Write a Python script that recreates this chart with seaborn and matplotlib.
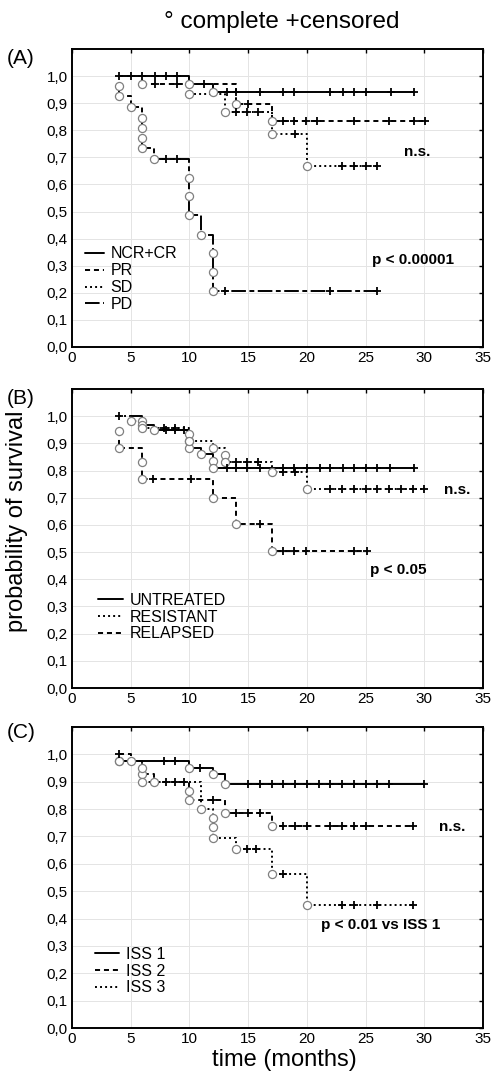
import matplotlib
matplotlib.use("Agg")
import numpy as np
import matplotlib.pyplot as plt
import seaborn as sns

# ---- panel A : response ----
ncr_t0, ncr_end = 4, 29.1
ncr_ev_t = [10, 12]
ncr_ev_s = [0.972, 0.94]
ncr_cen = [4, 5, 6, 7.1, 8, 8.9, 11.2, 13.2, 14, 16, 18, 18.9, 22, 23.1, 24, 25, 27.2, 29.1]

pr_t0, pr_end = 6, 30.1
pr_ev_t = [6, 14, 17]
pr_ev_s = [0.972, 0.897, 0.836]
pr_cen = [7.1, 8.9, 15, 18, 18.9, 19.9, 20.9, 24, 27, 29.1, 30.1]

sd_t0, sd_end = 10, 26
sd_ev_t = [10, 13, 17, 20]
sd_ev_s = [0.935, 0.869, 0.785, 0.669]
sd_cen = [14, 14.9, 15.8, 19, 23, 24, 25, 26]

pd_t0, pd_end = 4, 26
pd_ev_t = [4, 4, 5, 6, 6, 6, 6, 7, 10, 10, 10, 11, 12, 12, 12]
pd_ev_s = [0.964, 0.927, 0.885, 0.846, 0.808, 0.773, 0.733, 0.694,
           0.624, 0.557, 0.488, 0.414, 0.347, 0.276, 0.206]
pd_cen = [8, 8.9, 13, 22, 26]

# ---- panel B : treatment ----
unt_t0, unt_end = 5, 29.1
unt_ev_t = [6, 6, 7, 10, 10, 11, 12, 12]
unt_ev_s = [0.984, 0.966, 0.949, 0.91, 0.884, 0.86, 0.835, 0.81]
unt_cen = [8, 8.8, 9.5, 13.2, 14, 14.9, 16, 18, 18.9, 20, 21.1, 22, 23.1, 24, 25, 26, 27.1, 29.1]

res_t0, res_end = 4, 30
res_ev_t = [5, 6, 10, 10, 12, 13, 13, 17, 20]
res_ev_s = [0.984, 0.955, 0.933, 0.91, 0.884, 0.858, 0.832, 0.795, 0.732]
res_cen = [4, 7.8, 8.8, 14, 14.9, 15.8, 18, 19, 22, 23, 24, 25, 26, 27, 28, 29, 30]

rel_t0, rel_end = 4, 25.1
rel_ev_t = [4, 4, 6, 6, 12, 14, 17]
rel_ev_s = [0.945, 0.882, 0.83, 0.768, 0.70, 0.604, 0.504]
rel_cen = [6.9, 10.1, 16, 18, 18.9, 19.9, 24, 25.1]

# ---- panel C : ISS stage ----
iss1_t0, iss1_end = 4, 30
iss1_ev_t = [4, 10, 12, 13]
iss1_ev_s = [0.977, 0.951, 0.927, 0.89]
iss1_cen = [7.8, 8.8, 10.9, 15, 16, 17, 18, 19, 20, 21, 22, 23, 24, 25, 26, 27, 30]

iss2_t0, iss2_end = 4, 29
iss2_ev_t = [5, 6, 7, 10, 10, 13, 17]
iss2_ev_s = [0.975, 0.927, 0.898, 0.865, 0.833, 0.787, 0.737]
iss2_cen = [4, 8, 8.8, 9.5, 12, 14, 15, 16, 18, 19, 20, 22, 23, 24, 25, 29]

iss3_t0, iss3_end = 4, 29
iss3_ev_t = [4, 6, 6, 11, 12, 12, 12, 14, 17, 20]
iss3_ev_s = [0.977, 0.951, 0.90, 0.80, 0.766, 0.736, 0.693, 0.653, 0.563, 0.451]
iss3_cen = [14.9, 15.7, 18, 23, 24, 26, 29]

ytick_vals = [0.0, 0.1, 0.2, 0.3, 0.4, 0.5, 0.6, 0.7, 0.8, 0.9, 1.0]
ytick_labels = ["0,0", "0,1", "0,2", "0,3", "0,4", "0,5", "0,6", "0,7", "0,8", "0,9", "1,0"]
xtick_vals = [0, 5, 10, 15, 20, 25, 30, 35]

sns.set_theme(style="white")
plt.rcParams["font.family"] = ["Liberation Sans", "DejaVu Sans"]
plt.rcParams["text.color"] = "black"
plt.rcParams["axes.labelcolor"] = "black"
plt.rcParams["xtick.color"] = "black"
plt.rcParams["ytick.color"] = "black"

SOLID = "-"
DASH = (0, (2.6, 2.0))
DOT = (0, (1.0, 1.6))
LONGDASH = (0, (7.5, 1.8, 2.5, 1.8))


def level_at(t, ev_t, ev_s):
    lv = 1.0
    for et, es in zip(ev_t, ev_s):
        if et <= t:
            lv = es
    return lv


def km_curve(ax, t0, ev_t, ev_s, cen, t_end, ls):
    xs, ys = [t0], [1.0]
    for et, es in zip(ev_t, ev_s):
        xs.append(et)
        ys.append(es)
    if xs[0] == xs[1]:
        xs, ys = xs[1:], ys[1:]
    xs.append(t_end)
    ys.append(ys[-1])
    sns.lineplot(x=xs, y=ys, ax=ax, estimator=None, sort=False,
                 drawstyle="steps-post", color="black", lw=1.4, linestyle=ls, zorder=3)
    h = ax.lines[-1]
    sns.scatterplot(x=ev_t, y=ev_s, ax=ax, marker="o", s=34, color="white",
                    edgecolor="#808080", linewidth=0.9, zorder=4)
    cy = [level_at(c, ev_t, ev_s) for c in cen]
    sns.scatterplot(x=cen, y=cy, ax=ax, marker="+", s=40, color="black",
                    linewidth=1.3, zorder=5)
    return h


def style_axes(ax):
    ax.set_xlim(0, 35)
    ax.set_ylim(0, 1.1)
    ax.set_xticks(xtick_vals)
    ax.set_xticklabels([str(v) for v in xtick_vals])
    ax.set_yticks(ytick_vals)
    ax.set_yticklabels(ytick_labels)
    ax.grid(True, color="#e4e4e4", lw=0.7)
    ax.set_axisbelow(True)
    for sp in ax.spines.values():
        sp.set_color("black")
        sp.set_linewidth(1.4)
    ax.tick_params(direction="in", top=True, right=True, length=3, width=1,
                   labelsize=11, colors="black", labelcolor="black", pad=3)
    ax.set_xlabel("")
    ax.set_ylabel("")


fig = plt.figure(figsize=(4.92, 10.8), dpi=100)
L, W = 72 / 492, 411 / 492
axA = fig.add_axes([L, 1 - 347 / 1080, W, 298 / 1080])
axB = fig.add_axes([L, 1 - 688 / 1080, W, 299 / 1080])
axC = fig.add_axes([L, 1 - 1028 / 1080, W, 301 / 1080])

# A
hA = [km_curve(axA, ncr_t0, ncr_ev_t, ncr_ev_s, ncr_cen, ncr_end, SOLID),
      km_curve(axA, pr_t0, pr_ev_t, pr_ev_s, pr_cen, pr_end, DASH),
      km_curve(axA, sd_t0, sd_ev_t, sd_ev_s, sd_cen, sd_end, DOT),
      km_curve(axA, pd_t0, pd_ev_t, pd_ev_s, pd_cen, pd_end, LONGDASH)]
style_axes(axA)
axA.legend(hA, ["NCR+CR", "PR", "SD", "PD"], loc="upper left", bbox_to_anchor=(0.031, 0.338),
           frameon=False, fontsize=11.5, handlelength=1.2, handletextpad=0.4,
           labelspacing=0.12, borderpad=0, borderaxespad=0, labelcolor="black")
axA.text(29.4, 0.72, "n.s.", fontsize=11, fontweight="bold", ha="center", va="center", color="black")
axA.text(29.0, 0.322, "p < 0.00001", fontsize=11, fontweight="bold", ha="center", va="center", color="black")

# B
hB = [km_curve(axB, unt_t0, unt_ev_t, unt_ev_s, unt_cen, unt_end, SOLID),
      km_curve(axB, res_t0, res_ev_t, res_ev_s, res_cen, res_end, DOT),
      km_curve(axB, rel_t0, rel_ev_t, rel_ev_s, rel_cen, rel_end, DASH)]
style_axes(axB)
axB.legend(hB, ["UNTREATED", "RESISTANT", "RELAPSED"], loc="upper left", bbox_to_anchor=(0.063, 0.318),
           frameon=False, fontsize=11.5, handlelength=1.6, handletextpad=0.4,
           labelspacing=0.1, borderpad=0, borderaxespad=0, labelcolor="black")
axB.text(32.8, 0.73, "n.s.", fontsize=11, fontweight="bold", ha="center", va="center", color="black")
axB.text(27.8, 0.433, "p < 0.05", fontsize=11, fontweight="bold", ha="center", va="center", color="black")

# C
hC = [km_curve(axC, iss1_t0, iss1_ev_t, iss1_ev_s, iss1_cen, iss1_end, SOLID),
      km_curve(axC, iss2_t0, iss2_ev_t, iss2_ev_s, iss2_cen, iss2_end, DASH),
      km_curve(axC, iss3_t0, iss3_ev_t, iss3_ev_s, iss3_cen, iss3_end, DOT)]
style_axes(axC)
axC.legend(hC, ["ISS 1", "ISS 2", "ISS 3"], loc="upper left", bbox_to_anchor=(0.057, 0.269),
           frameon=False, fontsize=11.5, handlelength=1.5, handletextpad=0.4,
           labelspacing=0.1, borderpad=0, borderaxespad=0, labelcolor="black")
axC.text(32.4, 0.734, "n.s.", fontsize=11, fontweight="bold", ha="center", va="center", color="black")
axC.text(26.3, 0.378, "p < 0.01 vs ISS 1", fontsize=11, fontweight="bold", ha="center", va="center", color="black")

# figure texts
fig.text(0.573, 1 - 22 / 1080, "\u00b0 complete +censored", fontsize=17.5, ha="center", va="center")
fig.text(21 / 492, 1 - 58 / 1080, "(A)", fontsize=15, ha="center", va="center")
fig.text(21 / 492, 1 - 398 / 1080, "(B)", fontsize=15, ha="center", va="center")
fig.text(21 / 492, 1 - 733 / 1080, "(C)", fontsize=15, ha="center", va="center")
fig.text(17 / 492, 1 - 521 / 1080, "probability of survival", fontsize=17, rotation=90,
         ha="center", va="center")
fig.text(284 / 492, 1 - 1060 / 1080, "time (months)", fontsize=17, ha="center", va="center")

fig.savefig("out.png", dpi=100)
